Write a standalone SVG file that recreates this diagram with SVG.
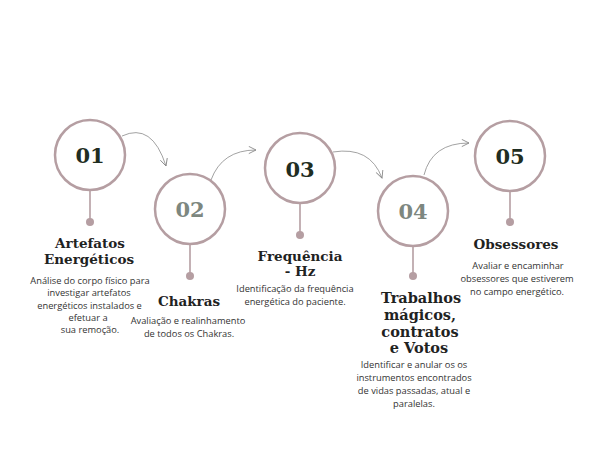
<svg xmlns="http://www.w3.org/2000/svg" width="600" height="450" viewBox="0 0 600 450">
  <defs>
    <marker id="arrow" viewBox="0 0 10 10" refX="9" refY="5" markerWidth="9" markerHeight="9" markerUnits="userSpaceOnUse" orient="auto">
      <path d="M1,1 L9,5 L1,9" fill="none" stroke="#8a8a8a" stroke-width="1"/>
    </marker>
  </defs>
  <style>
    .ring { fill: #ffffff; stroke: #b59ea2; stroke-width: 2.5; }
    .stem { stroke: #b59ea2; stroke-width: 1.6; }
    .dot { fill: #b59ea2; }
    .num { font-family: "DejaVu Serif", "Liberation Serif", serif; font-weight: bold; font-size: 21px; text-anchor: middle; }
    .dark { fill: #1f2d22; }
    .grey { fill: #7d877f; }
    .title { font-family: "DejaVu Serif", "Liberation Serif", serif; font-weight: bold; font-size: 13.5px; fill: #1f231f; text-anchor: middle; }
    .big { font-size: 14.5px; }
    .desc { font-family: "Open Sans", "Noto Sans", sans-serif; font-size: 9.3px; fill: #333333; text-anchor: middle; }
    .link { fill: none; stroke: #8a8a8a; stroke-width: 0.8; marker-end: url(#arrow); }
  </style>
  <rect width="600" height="450" fill="#ffffff"/>

  <g id="connectors">
    <path class="link" d="M122,136 Q152,122 166,166"/>
    <path class="link" d="M211,180 Q222,150 256,150"/>
    <path class="link" d="M333,152 Q370,146 382,178"/>
    <path class="link" d="M424,175 Q432,143 469,143"/>
  </g>

  <g id="step-01">
    <line class="stem" x1="90" y1="190" x2="90" y2="222"/>
    <circle class="dot" cx="90" cy="222" r="4"/>
    <circle class="ring" cx="90" cy="155" r="35"/>
    <text class="num dark" x="90" y="163">01</text>
    <text class="title" x="90" y="248">Artefatos</text>
    <text class="title" x="89" y="264">Energéticos</text>
    <text class="desc" x="90" y="284">Análise do corpo físico para</text>
    <text class="desc" x="89" y="296">investigar artefatos</text>
    <text class="desc" x="89.5" y="308.5">energéticos instalados e</text>
    <text class="desc" x="88" y="321">efetuar a</text>
    <text class="desc" x="90" y="333">sua remoção.</text>
  </g>

  <g id="step-02">
    <line class="stem" x1="190" y1="244" x2="190" y2="276"/>
    <circle class="dot" cx="190" cy="276" r="4"/>
    <circle class="ring" cx="190" cy="209" r="35"/>
    <text class="num grey" x="190" y="217">02</text>
    <text class="title" x="189" y="306">Chakras</text>
    <text class="desc" x="188" y="324">Avaliação e realinhamento</text>
    <text class="desc" x="189" y="337">de todos os Chakras.</text>
  </g>

  <g id="step-03">
    <line class="stem" x1="300" y1="203" x2="300" y2="235"/>
    <circle class="dot" cx="300" cy="235" r="4"/>
    <circle class="ring" cx="300" cy="168" r="35"/>
    <text class="num dark" x="300" y="177">03</text>
    <text class="title" x="300" y="261">Frequência</text>
    <text class="title" x="300" y="276">- Hz</text>
    <text class="desc" x="295" y="292">Identificação da frequência</text>
    <text class="desc" x="295" y="305">energética do paciente.</text>
  </g>

  <g id="step-04">
    <line class="stem" x1="413" y1="246" x2="413" y2="276"/>
    <circle class="dot" cx="413" cy="276" r="4"/>
    <circle class="ring" cx="413" cy="211" r="35"/>
    <text class="num grey" x="413" y="219">04</text>
    <text class="title big" x="421" y="303">Trabalhos</text>
    <text class="title big" x="420" y="320">mágicos,</text>
    <text class="title big" x="420" y="337">contratos</text>
    <text class="title big" x="419" y="353">e Votos</text>
    <text class="desc" x="414" y="368">Identificar e anular os os</text>
    <text class="desc" x="414" y="381">instrumentos encontrados</text>
    <text class="desc" x="414" y="394">de vidas passadas, atual e</text>
    <text class="desc" x="414" y="407">paralelas.</text>
  </g>

  <g id="step-05">
    <line class="stem" x1="510" y1="190" x2="510" y2="222"/>
    <circle class="dot" cx="510" cy="222" r="4"/>
    <circle class="ring" cx="510" cy="156" r="35"/>
    <text class="num dark" x="510" y="164">05</text>
    <text class="title" x="516" y="249">Obsessores</text>
    <text class="desc" x="518" y="269">Avaliar e encaminhar</text>
    <text class="desc" x="517" y="282">obsessores que estiverem</text>
    <text class="desc" x="517" y="295">no campo energético.</text>
  </g>
</svg>
